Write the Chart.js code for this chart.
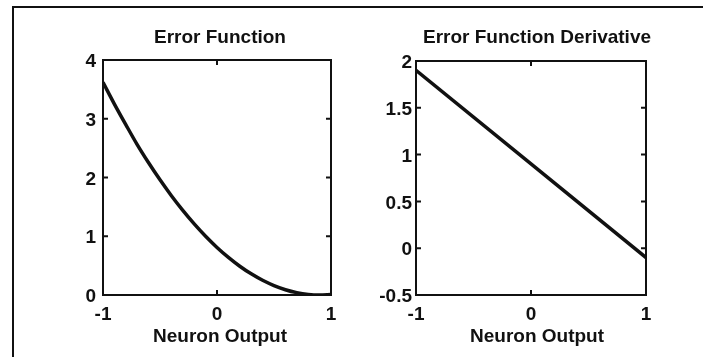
<!DOCTYPE html>
<html>
<head>
<meta charset="utf-8">
<script src="https://cdn.jsdelivr.net/npm/chart.js@4.4.1/dist/chart.umd.min.js"></script>
<style>
    body { margin: 0; background: #fff; }
    #page { position: relative; width: 703px; height: 357px; overflow: hidden; }
    #frame { position: absolute; left: 12px; top: 6px; right: -4px; bottom: -4px;
             border-left: 2px solid #111; border-top: 2px solid #111; }
    canvas { position: absolute; top: 0; }
</style>
</head>
<body>
<div id="page">
    <div id="frame"></div>
    <canvas id="errChart" width="351" height="357" style="left:0"></canvas>
    <canvas id="derivChart" width="352" height="357" style="left:351px"></canvas>
</div>
<script>
// neuron output samples
let outputs = [-1, -0.9, -0.8, -0.7, -0.6, -0.5, -0.4, -0.3, -0.2, -0.1, 0,
               0.1, 0.2, 0.3, 0.4, 0.5, 0.6, 0.7, 0.8, 0.9, 1];
// error at each output
let errorValues = [3.62, 3.25, 2.9, 2.56, 2.25, 1.96, 1.69, 1.44, 1.21, 1.0, 0.81,
                   0.64, 0.49, 0.36, 0.25, 0.16, 0.09, 0.04, 0.01, 0.0, 0.01];
// derivative, straight line
let derivOutputs = [-1, 0, 1];
let derivValues = [1.9, 0.9, -0.1];

let errTicks = [0, 1, 2, 3, 4];
let derivTicks = [-0.5, 0, 0.5, 1, 1.5, 2];

const FONT = { family: '"Liberation Sans", Arial, sans-serif', size: 19, weight: 'bold' };
const INK = '#111';

// matlab-ish box with inward ticks and text placed off the plot area
const boxPlugin = {
    id: 'box',
    afterDraw(chart, args, opts) {
        const ctx = chart.ctx, a = chart.chartArea;
        const xs = chart.scales.x, ys = chart.scales.y;
        ctx.save();
        ctx.strokeStyle = INK;
        ctx.lineWidth = 2;
        ctx.strokeRect(a.left, a.top, a.right - a.left, a.bottom - a.top);
        ctx.beginPath();
        ys.ticks.forEach((t, i) => {
            if (i === 0 || i === ys.ticks.length - 1) return;
            const y = ys.getPixelForTick(i);
            ctx.moveTo(a.left, y); ctx.lineTo(a.left + 5, y);
            ctx.moveTo(a.right, y); ctx.lineTo(a.right - 5, y);
        });
        xs.ticks.forEach((t, i) => {
            if (i === 0 || i === xs.ticks.length - 1) return;
            const x = xs.getPixelForTick(i);
            ctx.moveTo(x, a.top); ctx.lineTo(x, a.top + 5);
            ctx.moveTo(x, a.bottom); ctx.lineTo(x, a.bottom - 5);
        });
        ctx.stroke();

        ctx.fillStyle = INK;
        ctx.font = 'bold 19px "Liberation Sans", Arial, sans-serif';
        ctx.textAlign = 'center';
        ctx.textBaseline = 'alphabetic';
        const mid = (a.left + a.right) / 2;
        ctx.fillText(opts.title, mid + opts.shift, 43);
        ctx.fillText('Neuron Output', mid + opts.shift, 342);
        ctx.restore();
    }
};

function makeChart(id, xs, ys, yTicks, pad, yPad, title, shift) {
    return new Chart(document.getElementById(id), {
        type: 'line',
        data: {
            datasets: [{
                data: xs.map((x, i) => ({ x: x, y: ys[i] })),
                borderColor: INK,
                borderWidth: 3.5,
                pointRadius: 0,
                tension: 0.4,
                cubicInterpolationMode: 'monotone'
            }]
        },
        options: {
            responsive: false,
            animation: false,
            layout: { padding: pad },
            plugins: {
                legend: { display: false },
                tooltip: { enabled: false },
                box: { title: title, shift: shift }
            },
            scales: {
                x: {
                    type: 'linear', min: -1, max: 1,
                    grid: { display: false, drawTicks: false },
                    border: { display: false },
                    ticks: { stepSize: 1, font: FONT, color: INK, padding: 8,
                             callback: v => String(v) },
                    afterFit: s => { s.height = 62; }
                },
                y: {
                    type: 'linear', min: yTicks[0], max: yTicks[yTicks.length - 1],
                    grid: { display: false, drawTicks: false },
                    border: { display: false },
                    afterBuildTicks: s => { s.ticks = yTicks.map(v => ({ value: v })); },
                    ticks: { font: FONT, color: INK, padding: yPad, labelOffset: 2,
                             callback: v => String(v) },
                    afterFit: s => { s.width = pad.yw; }
                }
            }
        },
        plugins: [boxPlugin]
    });
}

makeChart('errChart', outputs, errorValues, errTicks,
    { left: 0, top: 60, right: 20, bottom: 0, yw: 103 }, 7, 'Error Function', 3);
makeChart('derivChart', derivOutputs, derivValues, derivTicks,
    { left: 0, top: 61, right: 57, bottom: 0, yw: 65 }, 4, 'Error Function Derivative', 6);
</script>
</body>
</html>
